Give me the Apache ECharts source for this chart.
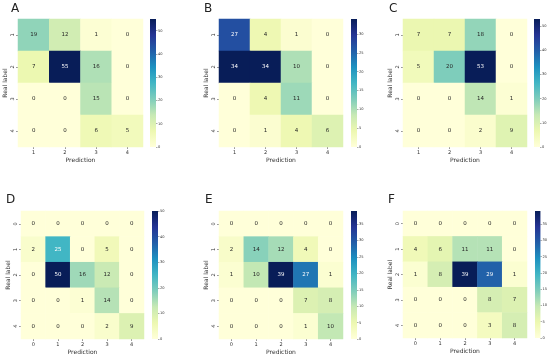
<!DOCTYPE html>
<html>
<head>
<meta charset="utf-8">
<script src="https://cdn.jsdelivr.net/npm/echarts@6/dist/echarts.min.js"></script>
<style>html,body{margin:0;padding:0;background:#fff}#c{width:550px;height:358px}</style>
</head>
<body>
<div id="c"></div>
<script>
// ---- data ----
const panelNames = ['A', 'B', 'C', 'D', 'E', 'F'];
const cats4 = ['1', '2', '3', '4'];
const cats5 = ['0', '1', '2', '3', '4'];
const matA = [[19, 12, 1, 0], [7, 55, 16, 0], [0, 0, 15, 0], [0, 0, 6, 5]];
const matB = [[27, 4, 1, 0], [34, 34, 10, 0], [0, 4, 11, 0], [0, 1, 4, 6]];
const matC = [[7, 7, 18, 0], [5, 20, 53, 0], [0, 0, 14, 1], [0, 0, 2, 9]];
const matD = [[0, 0, 0, 0, 0], [2, 25, 0, 5, 0], [0, 50, 16, 12, 0], [0, 0, 1, 14, 0], [0, 0, 0, 2, 9]];
const matE = [[0, 0, 0, 0, 0], [2, 14, 12, 4, 0], [1, 10, 39, 27, 1], [0, 0, 0, 7, 8], [0, 0, 0, 1, 10]];
const matF = [[0, 0, 0, 0, 0], [4, 6, 11, 11, 0], [1, 8, 39, 29, 1], [0, 0, 0, 8, 7], [0, 0, 0, 3, 8]];
const ticksA = [0, 10, 20, 30, 40, 50];
const ticksB = [0, 5, 10, 15, 20, 25, 30];
const ticksC = [0, 10, 20, 30, 40, 50];
const ticksD = [0, 10, 20, 30, 40, 50];
const ticksE = [0, 5, 10, 15, 20, 25, 30, 35];
const ticksF = [0, 5, 10, 15, 20, 25, 30, 35];
const xTitle = 'Prediction';
const yTitle = 'Real label';

// ---- layout / style ----
const YlGnBu = ['#ffffd9', '#edf8b1', '#c7e9b4', '#7fcdbb', '#41b6c4', '#1d91c0', '#225ea8', '#253494', '#081d58'];
const FONT = 'DejaVu Sans';
const panels = [
  { name: panelNames[0], mat: matA, cats: cats4, ticks: ticksA, g: [18, 19, 125, 128], cb: 150, t: [11, 3] },
  { name: panelNames[1], mat: matB, cats: cats4, ticks: ticksB, g: [219, 19, 124, 128], cb: 351, t: [204, 3] },
  { name: panelNames[2], mat: matC, cats: cats4, ticks: ticksC, g: [403, 19, 124, 128], cb: 534, t: [389, 3] },
  { name: panelNames[3], mat: matD, cats: cats5, ticks: ticksD, g: [21, 211, 123, 128], cb: 152, t: [6, 194] },
  { name: panelNames[4], mat: matE, cats: cats5, ticks: ticksE, g: [219, 211, 124, 128], cb: 351, t: [205, 194] },
  { name: panelNames[5], mat: matF, cats: cats5, ticks: ticksF, g: [403, 211, 124, 127], cb: 535, t: [388, 194] }
];

const option = { animation: false, title: [], grid: [], xAxis: [], yAxis: [], series: [], visualMap: [] };
const gradStops = YlGnBu.map((c, i) => ({ offset: i / (YlGnBu.length - 1), color: c }));

panels.forEach((p, k) => {
  const vmax = Math.max(...p.mat.flat());
  const data = [];
  p.mat.forEach((row, r) => row.forEach((v, c) => data.push([c, r, v])));
  option.title.push({ text: p.name, left: p.t[0], top: p.t[1], padding: 0,
    textStyle: { fontFamily: FONT, fontSize: 12, fontWeight: 'normal', color: '#222' } });
  // heatmap grid
  const gi = option.grid.length;
  option.grid.push({ left: p.g[0], top: p.g[1], width: p.g[2], height: p.g[3] });
  option.xAxis.push({ type: 'category', gridIndex: gi, data: p.cats, position: 'bottom',
    name: xTitle, nameLocation: 'middle', nameGap: 10,
    nameTextStyle: { fontFamily: FONT, fontSize: 6, color: '#333' },
    axisLine: { show: false }, splitLine: { show: false },
    axisTick: { show: true, alignWithLabel: true, length: 2, lineStyle: { color: '#555', width: 0.6 } },
    axisLabel: { fontFamily: FONT, fontSize: 5, color: '#333', margin: 3 } });
  option.yAxis.push({ type: 'category', gridIndex: gi, data: p.cats, inverse: true,
    name: yTitle, nameLocation: 'middle', nameGap: 10,
    nameTextStyle: { fontFamily: FONT, fontSize: 6, color: '#333' },
    axisLine: { show: false }, splitLine: { show: false },
    axisTick: { show: true, alignWithLabel: true, length: 2, lineStyle: { color: '#555', width: 0.6 } },
    axisLabel: { fontFamily: FONT, fontSize: 5, color: '#333', margin: 3, rotate: 90 } });
  const si = option.series.length;
  option.series.push({ type: 'heatmap', xAxisIndex: gi, yAxisIndex: gi, data: data,
    label: { show: true, fontFamily: FONT, fontSize: 5.5,
      formatter: (q) => (q.value[2] / vmax > 0.46 ? '{w|' : '{d|') + q.value[2] + '}',
      rich: { w: { color: '#ffffff', fontFamily: FONT, fontSize: 5.5 }, d: { color: '#262626', fontFamily: FONT, fontSize: 5.5 } } },
    itemStyle: { borderWidth: 0 }, emphasis: { disabled: true } });
  option.visualMap.push({ show: false, type: 'continuous', min: 0, max: vmax, seriesIndex: si, dimension: 2,
    inRange: { color: YlGnBu } });
  // colorbar grid
  const ci = option.grid.length;
  option.grid.push({ left: p.cb, top: p.g[1], width: 6, height: p.g[3] });
  option.xAxis.push({ type: 'category', gridIndex: ci, data: [''], show: false });
  option.yAxis.push({ type: 'value', gridIndex: ci, min: 0, max: vmax, position: 'right',
    axisLine: { show: false }, splitLine: { show: false },
    axisTick: { show: true, length: 1.5, customValues: p.ticks, lineStyle: { color: '#555', width: 0.5 } },
    axisLabel: { fontFamily: FONT, fontSize: 3.6, color: '#333', margin: 2, customValues: p.ticks } });
  option.series.push({ type: 'bar', xAxisIndex: ci, yAxisIndex: ci, data: [vmax], barWidth: '100%',
    itemStyle: { color: { type: 'linear', x: 0, y: 1, x2: 0, y2: 0, colorStops: gradStops } },
    emphasis: { disabled: true }, silent: true });
});

const chart = echarts.init(document.getElementById('c'), null, { renderer: 'canvas' });
chart.setOption(option);
</script>
</body>
</html>
